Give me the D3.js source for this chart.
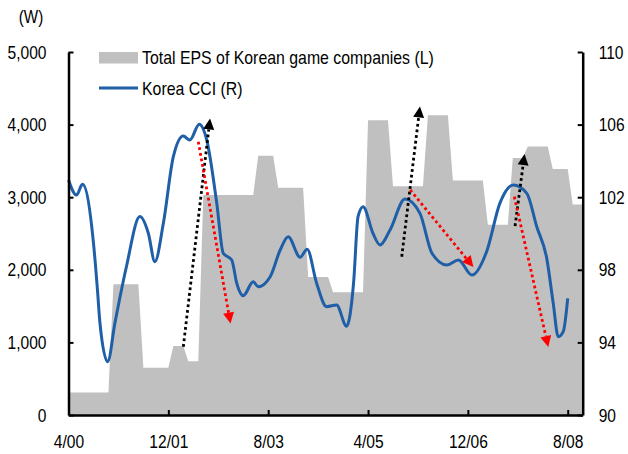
<!DOCTYPE html>
<html>
<head>
<meta charset="utf-8">
<script src="https://cdn.jsdelivr.net/npm/d3@7"></script>
<style>
  html, body { margin: 0; padding: 0; background: #fff; }
  svg { display: block; }
  text { font-family: "Liberation Sans Narrow", "Arial Narrow", "Liberation Sans", Arial, sans-serif; fill: #000; }
</style>
</head>
<body>
<svg id="chart" width="628" height="454"></svg>
<script>
// Total EPS of Korean game companies (won), one value per month starting 4/00
const epsMonthly = [
  310, 310, 310, 310, 310, 310, 310, 310, 310,
  1800, 1800, 1800, 1800, 1800, 1800,
  650, 650, 650, 650, 650, 650,
  950, 950, 950,
  740, 740, 740,
  3030, 3030, 3030, 3030, 3030, 3030, 3030, 3030, 3030, 3030, 3030,
  3570, 3570, 3570, 3570,
  3130, 3130, 3130, 3130, 3130, 3130,
  1900, 1900, 1900, 1900, 1900,
  1690, 1690, 1690, 1690, 1690, 1690, 1690,
  4060, 4060, 4060, 4060, 4060,
  3150, 3150, 3150, 3150, 3150, 3150, 3150,
  4130, 4130, 4130, 4130, 4130,
  3230, 3230, 3230, 3230, 3230, 3230, 3230,
  2620, 2620, 2620, 2620, 2620,
  3540, 3540, 3540,
  3700, 3700, 3700, 3700, 3700,
  3390, 3390, 3390, 3390,
  2900, 2900, 2900
];

// Korea consumer confidence index (right axis): month offset from 4/00 and value
const cciMonths = [0, 1.6, 2.8, 5.0, 5.8, 6.3, 7.85, 9.3, 10.2, 11.6,
  14.3, 16.0, 17.3, 19.0, 21.0, 23.0, 24.3, 26.2, 27.7, 29.7,
  31.0, 32.7, 33.7, 35.0, 37.0, 38.0, 40.4, 42.4, 44.0, 46.4,
  47.8, 49.7, 51.7, 53.7, 55.7, 57.1, 58.0, 59.0, 61.0, 62.4,
  64.4, 67.4, 70.4, 72.8, 75.8, 78.1, 80.8, 83.8, 86.4, 89.1,
  91.8, 93.8, 95.8, 97.1, 98.1, 99.1, 100];
const cciValues = [102.95, 102.12, 102.71, 99.48, 96.9, 95.07, 92.94, 95.07, 96.34, 98.17,
  100.93, 100.0, 98.45, 100.56, 104.23, 105.37, 105.15, 106.02, 105.15, 101.66,
  98.91, 98.54, 97.26, 96.57, 97.34, 97.07, 97.62, 99.09, 99.82, 98.69,
  99.13, 97.26, 95.97, 96.06, 94.89, 97.26, 100.93, 101.48, 100.0, 99.37,
  100.19, 101.9, 101.11, 98.91, 98.26, 98.54, 97.71, 99.04, 101.66, 102.67,
  102.21, 100.37, 98.63, 96.15, 94.31, 94.59, 96.43];

// Axis ticks
const xTickMonths = [0, 20, 40, 60, 80, 100];
const xTickLabels = ["4/00", "12/01", "8/03", "4/05", "12/06", "8/08"];
const leftTicks = [0, 1000, 2000, 3000, 4000, 5000];
const rightTicks = [90, 94, 98, 102, 106, 110];

// Trend arrows in (month, CCI) terms: start and end
const arrowColors = ["#000", "#ff0000", "#000", "#ff0000", "#000", "#ff0000"];
const arrowFrom = [[23.0, 93.76], [26.0, 105.06], [66.75, 98.72], [68.45, 102.4], [89.45, 100.41], [89.3, 102.03]];
const arrowTo   = [[28.35, 106.34], [32.45, 95.04], [70.4, 107.0], [81.1, 98.15], [91.35, 104.38], [96.1, 93.75]];

const legendLabels = ["Total EPS of Korean game companies (L)", "Korea CCI (R)"];

const svg = d3.select("#chart");
const plotLeft = 68.5, plotRight = 582.7, plotTop = 52, plotBottom = 415;

const x = d3.scaleLinear().domain([0, 103]).range([plotLeft, plotRight]);
const yL = d3.scaleLinear().domain([0, 5000]).range([plotBottom, plotTop]);
const yR = d3.scaleLinear().domain([90, 110]).range([plotBottom, plotTop]);

// Narrow-face lettering: squeeze each text horizontally about its own frame
function narrow(sel, factor) {
  sel.each(function () {
    const t = d3.select(this);
    const tx = +t.attr("x") || 0;
    t.attr("x", tx / factor).attr("transform", `scale(${factor},1)`);
  });
}

// EPS area
svg.append("path")
  .datum(epsMonthly)
  .attr("fill", "#c0c0c0")
  .attr("d", d3.area()
    .x((d, i) => x(i))
    .y0(yL(0))
    .y1(d => yL(d)));

// CCI line
const cci = cciMonths.map((m, i) => [m, cciValues[i]]);
svg.append("path")
  .datum(cci)
  .attr("fill", "none")
  .attr("stroke", "#1f5fa8")
  .attr("stroke-width", 3)
  .attr("stroke-linejoin", "round")
  .attr("d", d3.line()
    .x(d => x(d[0]))
    .y(d => yR(d[1]))
    .curve(d3.curveMonotoneX));

// Dotted arrows
const headLen = 11, headHalf = 5.5;
arrowFrom.forEach((f, i) => {
  const x1 = x(f[0]), y1 = yR(f[1]);
  const x2 = x(arrowTo[i][0]), y2 = yR(arrowTo[i][1]);
  const dx = x2 - x1, dy = y2 - y1, len = Math.hypot(dx, dy);
  const ux = dx / len, uy = dy / len;
  const bx = x2 - ux * headLen, by = y2 - uy * headLen;
  svg.append("line")
    .attr("x1", x1).attr("y1", y1).attr("x2", bx).attr("y2", by)
    .attr("stroke", arrowColors[i])
    .attr("stroke-width", 2.8)
    .attr("stroke-dasharray", "2.8,2.9");
  svg.append("path")
    .attr("fill", arrowColors[i])
    .attr("d", `M${x2},${y2}L${bx - uy * headHalf},${by + ux * headHalf}L${bx + uy * headHalf},${by - ux * headHalf}Z`);
});

// Axes
const fontSize = 19;
const gL = svg.append("g").attr("transform", `translate(${plotLeft},0)`)
  .call(d3.axisLeft(yL).tickValues(leftTicks).tickFormat(d3.format(","))
    .tickSizeInner(-5).tickSizeOuter(0).tickPadding(22));
const gR = svg.append("g").attr("transform", `translate(${plotRight},0)`)
  .call(d3.axisRight(yR).tickValues(rightTicks)
    .tickSizeInner(-5).tickSizeOuter(0).tickPadding(16));
const gB = svg.append("g").attr("transform", `translate(0,${plotBottom})`)
  .call(d3.axisBottom(x).tickValues(xTickMonths).tickFormat((d, i) => xTickLabels[i])
    .tickSizeInner(-5).tickSizeOuter(0).tickPadding(20));

[gL, gR, gB].forEach(g => {
  g.attr("font-family", null).attr("font-size", null);
  g.select(".domain").attr("stroke", "#000").attr("stroke-width", 2.5);
  g.selectAll(".tick line").attr("stroke", "#000").attr("stroke-width", 2);
  g.selectAll(".tick text").attr("font-size", fontSize).attr("fill", "#000")
    .call(narrow, 0.82);
});

// Unit label
svg.append("text").attr("x", 31).attr("y", 23.5).attr("text-anchor", "middle")
  .attr("font-size", fontSize).text("(W)").call(narrow, 0.8);

// Legend
svg.append("rect").attr("x", 99).attr("y", 52).attr("width", 39).attr("height", 11.5)
  .attr("fill", "#c0c0c0");
svg.append("line").attr("x1", 99).attr("x2", 138).attr("y1", 88).attr("y2", 88)
  .attr("stroke", "#1f5fa8").attr("stroke-width", 3);
svg.append("text").attr("x", 142).attr("y", 64.5).attr("font-size", fontSize)
  .text(legendLabels[0]).call(narrow, 0.835);
svg.append("text").attr("x", 142).attr("y", 95).attr("font-size", fontSize)
  .text(legendLabels[1]).call(narrow, 0.835);
</script>
</body>
</html>
